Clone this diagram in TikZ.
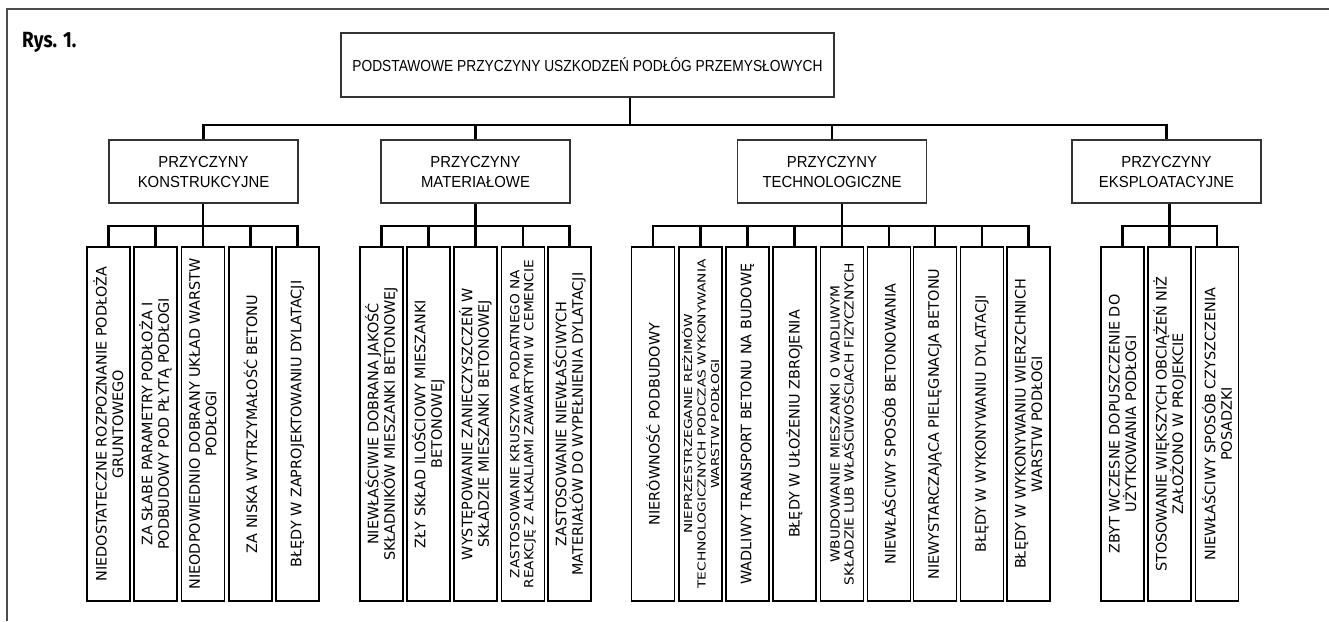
\documentclass[tikz,border=0pt]{standalone}
\usepackage{fontspec}
\setmainfont{Liberation Sans}
\newfontfamily\headfont[FakeStretch=0.86]{Liberation Sans}
\newfontfamily\catfont[FakeStretch=0.93]{Liberation Sans}
\newfontfamily\leaffont{DejaVu Sans}
\newfontfamily\leafwideA[FakeStretch=1.1]{DejaVu Sans}
\newfontfamily\leafwideB[FakeStretch=1.25]{DejaVu Sans}
\newfontfamily\rysfont[FakeStretch=0.86]{Fira Sans}

\tikzset{
  conn/.style={line width=2.2pt, black},
  frameline/.style={line width=1.6pt, black!70},
  headbox/.style={draw=black!80, line width=1.2pt, minimum width=493pt,
    minimum height=64pt, inner sep=0pt,
    font=\headfont\fontsize{16}{20}\selectfont},
  catbox/.style={draw=black!80, line width=1.2pt, minimum width=189pt,
    minimum height=63pt, inner sep=0pt, align=center,
    font=\catfont\fontsize{16}{20}\selectfont},
  leafbox/.style={draw=black, line width=1.8pt, rotate=90,
    minimum width=354pt, minimum height=43pt, inner sep=0pt, align=center,
    font=\leaffont\fontsize{14.4}{16.5}\selectfont},
  leafsmall/.style={leafbox, font=\leafwideA\fontsize{12.5}{14}\selectfont},
  leaftiny/.style={leafbox, font=\leafwideB\fontsize{11}{13.5}\selectfont},
}

\begin{document}
\begin{tikzpicture}[x=1pt, y=-1pt]
\useasboundingbox (0,0) rectangle (1329,621);

% partial frame and figure label
\draw[frameline] (1329,9) -- (7,9) -- (7,621);
\node[anchor=base west, inner sep=0pt,
  font=\rysfont\bfseries\fontsize{22}{24}\selectfont] (rys) at (22,47) {Rys. 1.};

% root
\node[headbox] (H) at (587.5,65) {PODSTAWOWE PRZYCZYNY USZKODZEŃ PODŁÓG PRZEMYSŁOWYCH};

% categories
\node[catbox] (K) at (203.5,171.5) {PRZYCZYNY\\KONSTRUKCYJNE};
\node[catbox] (M) at (475.5,171.5) {PRZYCZYNY\\MATERIAŁOWE};
\node[catbox] (T) at (832,171.5) {PRZYCZYNY\\TECHNOLOGICZNE};
\node[catbox] (E) at (1166.5,171.5) {PRZYCZYNY\\EKSPLOATACYJNE};

% leaves: constructional
\node[leafbox] (K1) at (108.5,424) {NIEDOSTATECZNE ROZPOZNANIE PODŁOŻA\\GRUNTOWEGO};
\node[leafbox] (K2) at (155.5,424) {ZA SŁABE PARAMETRY PODŁOŻA I\\PODBUDOWY POD PŁYTĄ PODŁOGI};
\node[leafbox] (K3) at (203,424) {NIEODPOWIEDNIO DOBRANY UKŁAD WARSTW\\PODŁOGI};
\node[leafbox] (K4) at (250.5,424) {ZA NISKA WYTRZYMAŁOŚĆ BETONU};
\node[leafbox] (K5) at (297.5,424) {BŁĘDY W ZAPROJEKTOWANIU DYLATACJI};

% leaves: material
\node[leafbox] (M1) at (381.5,424) {NIEWŁAŚCIWIE DOBRANA JAKOŚĆ\\SKŁADNIKÓW MIESZANKI BETONOWEJ};
\node[leafbox] (M2) at (428.5,424) {ZŁY SKŁAD ILOŚCIOWY MIESZANKI\\BETONOWEJ};
\node[leafbox] (M3) at (475.5,424) {WYSTĘPOWANIE ZANIECZYSZCZEŃ W\\SKŁADZIE MIESZANKI BETONOWEJ};
\node[leafsmall] (M4) at (523,424) {ZASTOSOWANIE KRUSZYWA PODATNEGO NA\\REAKCJĘ Z ALKALIAMI ZAWARTYMI W CEMENCIE};
\node[leafbox] (M5) at (569.5,424) {ZASTOSOWANIE NIEWŁAŚCIWYCH\\MATERIAŁÓW DO WYPEŁNIENIA DYLATACJI};

% leaves: technological
\node[leafbox] (T1) at (653,424) {NIERÓWNOŚĆ PODBUDOWY};
\node[leaftiny] (T2) at (700.5,424) {NIEPRZESTRZEGANIE REŻIMÓW\\TECHNOLOGICZNYCH PODCZAS WYKONYWANIA\\WARSTW PODŁOGI};
\node[leafbox] (T3) at (747.5,424) {WADLIWY TRANSPORT BETONU NA BUDOWĘ};
\node[leafbox] (T4) at (794.5,424) {BŁĘDY W UŁOŻENIU ZBROJENIA};
\node[leafsmall] (T5) at (842,424) {WBUDOWANIE MIESZANKI O WADLIWYM\\SKŁADZIE LUB WŁAŚCIWOŚCIACH FIZYCZNYCH};
\node[leafbox] (T6) at (889,424) {NIEWŁAŚCIWY SPOSÓB BETONOWANIA};
\node[leafbox] (T7) at (935,424) {NIEWYSTARCZAJĄCA PIELĘGNACJA BETONU};
\node[leafbox] (T8) at (982,424) {BŁĘDY W WYKONYWANIU DYLATACJI};
\node[leafbox] (T9) at (1028.5,424) {BŁĘDY W WYKONYWANIU WIERZCHNICH\\WARSTW PODŁOGI};

% leaves: operational
\node[leafbox] (E1) at (1122.5,424) {ZBYT WCZESNE DOPUSZCZENIE DO\\UŻYTKOWANIA PODŁOGI};
\node[leafbox] (E2) at (1169.5,424) {STOSOWANIE WIĘKSZYCH OBCIĄŻEŃ NIŻ\\ZAŁOŻONO W PROJEKCIE};
\node[leafbox] (E3) at (1217,424) {NIEWŁAŚCIWY SPOSÓB CZYSZCZENIA\\POSADZKI};

% root to categories
\coordinate (hub) at (630,125);
\draw[conn] (H.south -| hub) -- (hub);
\draw[conn] (K.north) -- (K.north |- hub) -- (E.north |- hub) -- (E.north);
\draw[conn] (M.north) -- (M.north |- hub);
\draw[conn] (T.north) -- (T.north |- hub);

% categories to leaves
\coordinate (lb) at (0,226);
\draw[conn] (K.south -| K3) -- (K3.east);
\draw[conn] (K1.east) -- (K1.east |- lb) -- (K5.east |- lb) -- (K5.east);
\foreach \n in {K2,K4} \draw[conn] (\n.east) -- (\n.east |- lb);

\draw[conn] (M.south -| M3) -- (M3.east);
\draw[conn] (M1.east) -- (M1.east |- lb) -- (M5.east |- lb) -- (M5.east);
\foreach \n in {M2,M4} \draw[conn] (\n.east) -- (\n.east |- lb);

\draw[conn] (T.south -| T5) -- (T5.east);
\draw[conn] (T1.east) -- (T1.east |- lb) -- (T9.east |- lb) -- (T9.east);
\foreach \n in {T2,T3,T4,T6,T7,T8} \draw[conn] (\n.east) -- (\n.east |- lb);

\draw[conn] (E.south -| E2) -- (E2.east);
\draw[conn] (E1.east) -- (E1.east |- lb) -- (E3.east |- lb) -- (E3.east);
\end{tikzpicture}
\end{document}
